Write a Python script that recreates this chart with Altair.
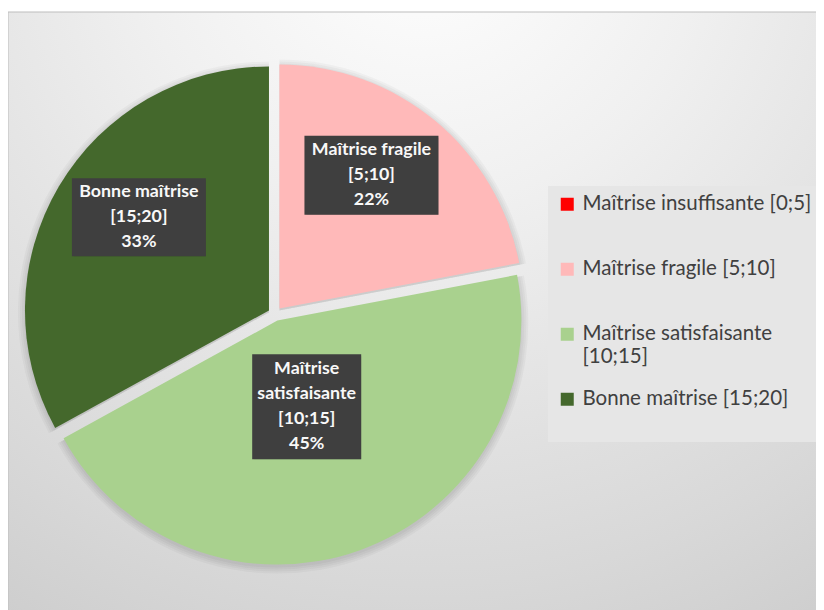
import altair as alt
import pandas as pd

# ---- data ----
categories = [
    "Maîtrise insuffisante [0;5]",
    "Maîtrise fragile [5;10]",
    "Maîtrise satisfaisante [10;15]",
    "Bonne maîtrise [15;20]",
]
shares = [0, 22, 45, 33]
label_names = [
    "Maîtrise insuffisante\n[0;5]",
    "Maîtrise fragile\n[5;10]",
    "Maîtrise\nsatisfaisante\n[10;15]",
    "Bonne maîtrise\n[15;20]",
]
colors = ["#FF0000", "#FFB9B9", "#A9D18E", "#44682C"]

# ---- layout (pixels) ----
W, H = 808, 598
CX, CY, R, EXPLODE = 267, 302, 244, 7
LINE_H = 25
label_radius = [150, 162, 91, 160]
label_shift_deg = [0, -5, 1, 5]
box_width = [150, 134, 109, 134]
box_height = [80, 79, 105, 78]

df = pd.DataFrame({
    "category": categories,
    "share": shares,
    "name": label_names,
    "order": list(range(len(categories))),
    "nl": [s.count("\n") + 2 for s in label_names],
    "lr": label_radius,
    "lshift": label_shift_deg,
    "bw": box_width,
    "bh": box_height,
})

base = (
    alt.Chart(df)
    .transform_window(cum="sum(share)", sort=[alt.SortField("order")], frame=[None, 0])
    .transform_joinaggregate(total="sum(share)")
    .transform_calculate(start="2*PI*(datum.cum-datum.share)/datum.total")
    .transform_calculate(end="2*PI*datum.cum/datum.total")
    .transform_calculate(mid="(datum.start+datum.end)/2")
    .transform_calculate(cx=f"{CX}+{EXPLODE}*sin(datum.mid)")
    .transform_calculate(cy=f"{CY}-{EXPLODE}*cos(datum.mid)")
    .transform_calculate(sy="datum.cy+2")
    .transform_calculate(lang="datum.mid+datum.lshift*PI/180")
    .transform_calculate(lx="datum.cx+datum.lr*sin(datum.lang)")
    .transform_calculate(ly="datum.cy-datum.lr*cos(datum.lang)")
    .transform_calculate(ty=f"datum.ly-(datum.nl-1)*{LINE_H}/2")
    .transform_calculate(bx1="datum.lx-datum.bw/2")
    .transform_calculate(bx2="datum.lx+datum.bw/2")
    .transform_calculate(by1="datum.ly-datum.bh/2")
    .transform_calculate(by2="datum.ly+datum.bh/2")
    .transform_calculate(label="datum.name + '\\n' + format(datum.share/datum.total, '.0%')")
)

bg_grad = alt.Gradient(
    gradient="radial",
    stops=[
        alt.GradientStop(color="#ffffff", offset=0),
        alt.GradientStop(color="#f0f0f0", offset=0.3),
        alt.GradientStop(color="#d8d8d8", offset=0.7),
        alt.GradientStop(color="#c4c4c4", offset=1),
    ],
    x1=0.5, y1=0.02, r1=0, x2=0.5, y2=0.02, r2=1.15,
)

one = alt.Chart(pd.DataFrame({"k": [0]}))
background = one.mark_rect(color=bg_grad, stroke="#bdbdbd", strokeWidth=1).encode(
    x=alt.value(0), x2=alt.value(W + 18), y=alt.value(0), y2=alt.value(H + 10)
)
legend_bg = one.mark_rect(color="#e6e6e6").encode(
    x=alt.value(540), x2=alt.value(W + 10), y=alt.value(174), y2=alt.value(430)
)

# soft outer shadow under the slices
shadows = [
    base.mark_arc(radius=R + k, color="black", opacity=0.03).encode(
        theta=alt.Theta("start:Q", scale=None),
        theta2="end:Q",
        x=alt.X("cx:Q", scale=None),
        y=alt.Y("sy:Q", scale=None),
    )
    for k in (1, 3, 5, 7)
]

arcs = base.mark_arc(radius=R).encode(
    theta=alt.Theta("start:Q", scale=None),
    theta2="end:Q",
    x=alt.X("cx:Q", scale=None),
    y=alt.Y("cy:Q", scale=None),
    color=alt.Color(
        "category:N",
        scale=alt.Scale(domain=categories, range=colors),
        legend=alt.Legend(
            title=None,
            orient="none",
            legendX=549,
            legendY=182,
            direction="vertical",
            symbolType="square",
            symbolSize=169,
            symbolStrokeWidth=0,
            labelFont="Lato",
            labelFontSize=20.5,
            labelColor="#404040",
            labelOffset=5,
            labelLimit=400,
            rowPadding=21,
            padding=0,
            gridAlign="all",
            labelExpr="datum.label == 'Maîtrise satisfaisante [10;15]' ? ['Maîtrise satisfaisante', '[10;15]'] : datum.label",
        ),
    ),
)

box_shadow = base.transform_filter("datum.share > 0").mark_rect(color="black", opacity=0.18).encode(
    x=alt.X("bx1:Q", scale=None),
    x2="bx2:Q",
    y=alt.Y("by1:Q", scale=None),
    y2="by2:Q",
    xOffset=alt.value(2),
    yOffset=alt.value(2),
)

boxes = base.transform_filter("datum.share > 0").mark_rect(color="#3f3f3f").encode(
    x=alt.X("bx1:Q", scale=None),
    x2="bx2:Q",
    y=alt.Y("by1:Q", scale=None),
    y2="by2:Q",
)

texts = base.transform_filter("datum.share > 0").mark_text(
    font="Lato", fontWeight="bold", fontSize=17.8, color="#f8f8f8",
    lineBreak="\n", lineHeight=LINE_H, align="center", baseline="middle",
).encode(
    x=alt.X("lx:Q", scale=None),
    y=alt.Y("ty:Q", scale=None),
    text="label:N",
)

chart = (
    alt.layer(background, legend_bg, *shadows, arcs, box_shadow, boxes, texts)
    .properties(
        width=W,
        height=H,
        padding={"left": 0, "top": 4, "right": 0, "bottom": 0},
        autosize=alt.AutoSizeParams(type="none"),
        background="white",
    )
    .configure_view(strokeWidth=0)
)

chart.save("out.html", embed_options={"renderer": "svg", "actions": False})
